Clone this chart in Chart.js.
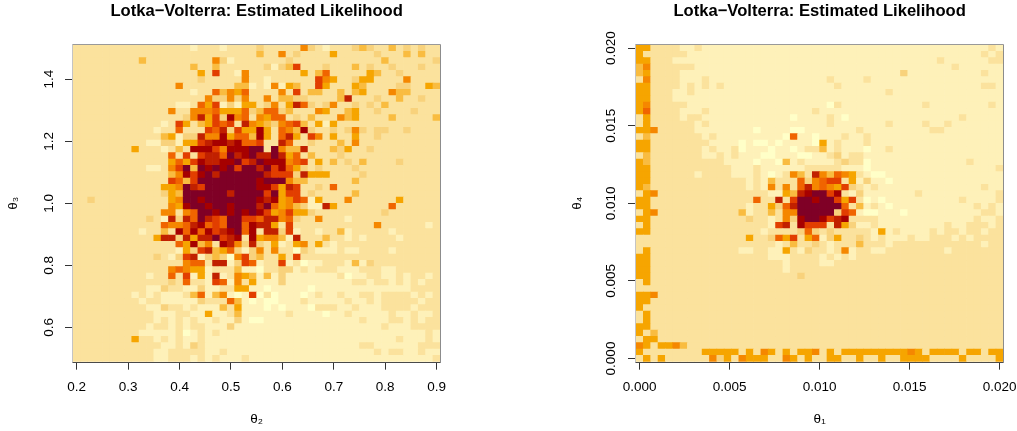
<!DOCTYPE html>
<html>
<head>
<meta charset="utf-8">
<title>Lotka-Volterra likelihood</title>
<script src="https://cdn.jsdelivr.net/npm/chart.js@4"></script>
<style>
    html, body { margin: 0; padding: 0; background: #fff; }
    #wrap { position: relative; width: 1017px; height: 431px; overflow: hidden; }
    canvas { position: absolute; top: 0; }
</style>
</head>
<body>
<div id="wrap">
    <canvas id="left" width="508" height="431" style="left:0"></canvas>
    <canvas id="right" width="509" height="431" style="left:508px"></canvas>
</div>
<script>
    const plotTitle = 'Lotka\u2212Volterra: Estimated Likelihood';

    // colour classes, palest to darkest
    const heatColors = ['#FFFFC8','#FEF1B9','#FBE29D','#F8D27C','#F9BC40','#F6A500','#F58700','#F06400','#E23E00','#C12000','#A60000','#7F0026'];

    const theta2Ticks = [0.2,0.3,0.4,0.5,0.6,0.7,0.8,0.9];
    const theta3Ticks = [0.6,0.8,1.0,1.2,1.4];
    const theta1Ticks = [0,0.005,0.01,0.015,0.02];
    const theta4Ticks = [0,0.005,0.01,0.015,0.02];

    const theta2Range = [0.2,0.9];
    const theta3Range = [0.5,1.5];
    const theta1Range = [0,0.02];
    const theta4Range = [0,0.02];

    // one string per grid row (top to bottom), one hex digit per cell = heatColors index
    const leftRows = [
        '2222222222 2222221222 1222232222 2632122234 3224232322',
        '2222222222 2222222222 2222242262 3222252222 2322242422',
        '2222222224 2222222226 3122222223 2222222222 2242222223',
        '2222222222 2222224224 2222223134 8222322242 3223222322',
        '2222222222 2222222528 2216222222 2524722222 5422322222',
        '2222222222 2222222322 2226221222 2228652235 5222262222',
        '2222222222 2222622222 2244121615 4228522254 2222332254',
        '2222222222 2222221227 4657222262 8244224245 2226442222',
        '2222222222 2222222263 3636226244 3322224922 2322422322',
        '2222222222 2222112758 1315523625 9732362232 3242222222',
        '2222222222 2226226667 5557347734 2226522452 2322223222',
        '2222222222 2222236958 3a67265772 3242226452 2224222224',
        '2222222222 2212852458 7829654367 8425152222 2222222222',
        '2222222222 2122722287 93855a5276 4a32232363 2332232222',
        '2222222222 2245133966 a5774a5279 5286252252 2322222222',
        '2222222222 113315589a a9a7782297 2232224262 2222222222',
        '2222222252 221242aaa8 6aaabb2b64 4922243522 3222222222',
        '2222222222 2227282899 7b9ab99b95 7242223222 2222222222',
        '2222222222 2225758a99 aab89baaa6 7825242324 2222322222',
        '2222222222 11268b4bab ab8bb9b8a7 5323222232 2222222222',
        '2222222222 22246a8ab9 bbbbbb9888 3955522223 2222222222',
        '2222222222 2228748bbb bbbbbabbb6 4422222242 2222222222',
        '2222222222 22556b98bb bbbbbaa859 8223272222 2222222222',
        '2222222222 22354bbbbb b9bbbb8b58 8232222242 2222222222',
        '2232222222 22256bbabb bbbbba9a56 8715222622 2222522222',
        '2222222222 22265abbab babbb9b756 4311952222 2227222222',
        '2222222222 2266267bba bababa8568 5532222222 2232222222',
        '2222222222 3219397b98 7bb8879967 3226222122 2222222222',
        '2222222222 2276679a78 7bb7a99528 2222222222 2622222212',
        '2222222221 2242a7a7a8 9ab7a29938 1221224122 2221222222',
        '2222222222 259939599b 89a2a56641 9222422121 2222122222',
        '2222222222 222275a462 a963932512 5625212222 2222222222',
        '2222222222 2222153894 5731362622 0321112112 2221222222',
        '2222222222 2321389134 3068342252 8222222222 2222222222',
        '2222222222 2222267729 9138712281 2011222141 3222222222',
        '2222222222 2226765512 2241102233 1212221112 2211222222',
        '2222222222 1227281519 1265414131 1111112011 2211212212',
        '2222222222 2223272218 7162511131 1111111122 1221212122',
        '2222222222 1132211311 2255110111 1101111111 1111112222',
        '2222222212 1211124714 6101802011 1012112112 2122221212',
        '2222222221 2211111322 2741010011 1211111211 2122222122',
        '2222222222 1132212111 4251110101 1102221121 1122221222',
        '2222222222 2111221151 1241111112 1111011211 1112112112',
        '2222222222 2121212112 1131001111 1111111112 1112212122',
        '2222222222 1221212211 1311111111 1111111111 1121112222',
        '2222222221 1111201212 1111111111 1111111111 1111111121',
        '2222222252 2121211211 1111111111 1111111111 1111211121',
        '2222222222 2211213211 1111111111 1111111112 2111111222',
        '2222222222 2112222211 2111111111 1111111111 1212211211',
        '2222222222 2112221212 1112111111 1111111111 1111111112'
    ];

    const rightRows = [
        '5522221121 1111111111 1111111111 1111111111 1111111121',
        '5222222111 1111111111 1111111111 1111111111 1111111212',
        '5522211111 1111111111 1111111111 1111111111 1211111122',
        '4622222211 1111111111 1111111111 1111111111 1112111111',
        '4522221111 1111111111 1111111111 1111113111 1111111211',
        '2622221112 1111111111 1111112111 1211111111 1111111111',
        '5522221212 1211111111 1111111211 1111111111 1111111221',
        '5522211211 1111111111 1111111111 1111211111 1111111111',
        '5522211111 1111111111 1111111111 1111111111 1111111111',
        '5622222111 1111111111 1111110211 1111111112 1111111121',
        '5722221112 1111111111 1111211111 1111111111 1111111111',
        '2522221221 1111111111 1011112101 1111111111 1111211111',
        '2522222212 1111111111 1111112111 1111211112 1121111111',
        '5562222211 1111110111 1001111111 2111111111 2211111111',
        '2422222221 2111111111 0711011121 1211111111 1111111111',
        '5522222222 1111010010 1111051211 1211111111 1111111111',
        '5522222221 2112011101 1012241211 1011211111 1111111111',
        '2422222221 1212111001 1100112312 2111111111 1111111111',
        '5422222222 2211110110 4121111232 2011111111 1111121111',
        '5522222222 2221112111 1112222211 1011111111 1111111112',
        '5522222212 2221112101 2642964765 2100111111 1111111111',
        '5522222222 2222212142 2273678825 1311011111 1111111111',
        '5422222222 2222212162 6279676583 2121111111 1111111211',
        '2562222222 2222222211 549abb8a21 3111111121 1111111112',
        '5522222222 2222227229 28bbabb858 2010111111 1111211112',
        '5522222222 2222212253 79bbbbbb72 4121011111 1111112121',
        '2562222222 2222412242 66bbbbb387 1001110111 1111111221',
        '5522222222 2222232212 63abba89a2 2221111111 1111112112',
        '2522222222 2222222218 92a8882953 1121111111 1121122212',
        '5522222222 2222222122 2237323222 2215121111 2122122122',
        '2222222222 2222252237 5825713522 3212111211 2221212222',
        '2222222222 2222222221 2422321222 4222122222 2222222122',
        '2522222222 2222112211 5213221261 2211222222 2212222222',
        '5522222222 2222222211 1222212121 2222222222 2222222222',
        '5522222222 2222222222 1222211222 2222222222 2222222222',
        '5522222222 2222222222 1222222222 2222222222 2222222222',
        '5522222222 2222222222 2232222222 2222222222 2222222222',
        '2522222222 2222222222 2222222222 2222222222 2222222222',
        '2222222222 2222222222 2222222222 2222222222 2222222222',
        '5562222222 2222222222 2222222222 2222222222 2222222222',
        '5522222222 2222222222 2222222222 2222222222 2222222222',
        '5222222222 2222222222 2222222222 2222222222 2222222222',
        '2522222222 2222222222 2222222222 2222222222 2222222222',
        '2522222222 2222222222 2222222222 2222222222 2222222222',
        '5522222222 2222222222 2222222222 2222222222 2222222222',
        '5242222222 2222222222 2222222222 2222222222 2222222222',
        '2552222222 2222222222 2222222222 2222222222 2222222222',
        '6525564222 2222222222 2222222222 2222222222 2222222222',
        '5222222225 5555252652 5255625255 5555555652 5555255255',
        '2525222222 6352655522 6525225522 5225225555 2222522225'
    ];

    const FONT = '"Liberation Sans", Arial, sans-serif';
    const TEXT = '#000';

    function buildCells(rows, xRange, yRange) {
        const cells = [], colors = [];
        const n = rows.length;
        const dx = (xRange[1] - xRange[0]) / (n - 1);
        const dy = (yRange[1] - yRange[0]) / (n - 1);
        rows.forEach((row, j) => {
            const levels = row.replace(/ /g, '');
            const top = yRange[1] + dy / 2 - j * dy;
            for (let i = 0; i < levels.length; i++) {
                cells.push({ x: xRange[0] + i * dx, y: [top - dy, top] });
                colors.push(heatColors[parseInt(levels[i], 16)]);
            }
        });
        return { cells, colors, dx, dy };
    }

    // box round the image, R draws it as a hairline so the sides come out in different greys
    const boxPlugin = {
        id: 'box',
        afterDatasetsDraw(chart) {
            const { ctx, chartArea: a } = chart;
            const l = Math.round(a.left) - 0.5, r = Math.round(a.right) + 0.5;
            const t = Math.round(a.top) - 0.5, b = Math.round(a.bottom) + 0.5;
            const side = (x1, y1, x2, y2, c) => {
                ctx.strokeStyle = c;
                ctx.beginPath(); ctx.moveTo(x1, y1); ctx.lineTo(x2, y2); ctx.stroke();
            };
            ctx.save();
            ctx.lineWidth = 1;
            side(l, t, l, b, '#c4c4c4');
            side(l, t, r, t, '#999');
            side(r, t, r, b, '#8c8c8c');
            side(l, b, r, b, '#4a4a4a');
            ctx.restore();
        }
    };

    function heatmap(id, cfg) {
        const g = buildCells(cfg.rows, cfg.xRange, cfg.yRange);
        const fixedTicks = list => scale => { scale.ticks = list.map(v => ({ value: v })); };
        return new Chart(document.getElementById(id), {
            type: 'bar',
            data: { datasets: [{ data: g.cells, backgroundColor: g.colors, borderWidth: 0, barPercentage: 1, categoryPercentage: 1 }] },
            plugins: [boxPlugin],
            options: {
                responsive: false,
                animation: false,
                events: [],
                layout: { padding: { left: cfg.padLeft, right: cfg.padRight, top: 0, bottom: 0 } },
                plugins: {
                    legend: { display: false },
                    tooltip: { enabled: false },
                    title: {
                        display: true,
                        text: plotTitle,
                        fullSize: false,
                        color: TEXT,
                        font: { family: FONT, size: 16.6, weight: 'bold' },
                        padding: { top: 1, bottom: 24.08 }
                    }
                },
                scales: {
                    x: {
                        type: 'linear',
                        offset: false,
                        min: cfg.xRange[0] - g.dx / 2,
                        max: cfg.xRange[1] + g.dx / 2,
                        // no extra room for the end labels, the plot box is fixed
                        afterFit: s => { s.height = 69.33; s.paddingLeft = 0; s.paddingRight = 0; },
                        afterBuildTicks: fixedTicks(cfg.xTicks),
                        border: { display: false },
                        grid: { offset: false, drawOnChartArea: false, tickLength: 8, tickColor: '#333', lineWidth: 1 },
                        ticks: {
                            autoSkip: false, maxRotation: 0, padding: 10, color: TEXT,
                            font: { family: FONT, size: 13.5 },
                            callback: v => v.toFixed(cfg.decimals)
                        },
                        title: { display: true, text: cfg.xLabel, color: TEXT, font: { family: FONT, size: 13.5 }, padding: { top: 0, bottom: 4 } }
                    },
                    y: {
                        type: 'linear',
                        beginAtZero: false,
                        min: cfg.yRange[0] - g.dy / 2,
                        max: cfg.yRange[1] + g.dy / 2,
                        afterFit: s => { s.width = cfg.yWidth; s.paddingTop = 0; s.paddingBottom = 0; },
                        afterBuildTicks: fixedTicks(cfg.yTicks),
                        border: { display: false },
                        grid: { drawOnChartArea: false, tickLength: 8, tickColor: '#333', lineWidth: 1 },
                        ticks: {
                            autoSkip: false, minRotation: 90, maxRotation: 90, crossAlign: 'center', padding: cfg.yTickPad, color: TEXT,
                            font: { family: FONT, size: 13.5 },
                            callback: v => v.toFixed(cfg.decimals)
                        },
                        title: { display: true, text: cfg.yLabel, color: TEXT, font: { family: FONT, size: 13.5 }, padding: { top: 5, bottom: 0 } }
                    }
                }
            }
        });
    }

    heatmap('left', {
        rows: leftRows, xRange: theta2Range, yRange: theta3Range, xTicks: theta2Ticks, yTicks: theta3Ticks,
        xLabel: '\u03b8\u2082', yLabel: '\u03b8\u2083', decimals: 1, padLeft: 0, padRight: 67.7, yWidth: 73, yTickPad: 6
    });
    heatmap('right', {
        rows: rightRows, xRange: theta1Range, yRange: theta4Range, xTicks: theta1Ticks, yTicks: theta4Ticks,
        xLabel: '\u03b8\u2081', yLabel: '\u03b8\u2084', decimals: 3, padLeft: 56, padRight: 13.7, yWidth: 72, yTickPad: 0
    });
</script>
</body>
</html>
